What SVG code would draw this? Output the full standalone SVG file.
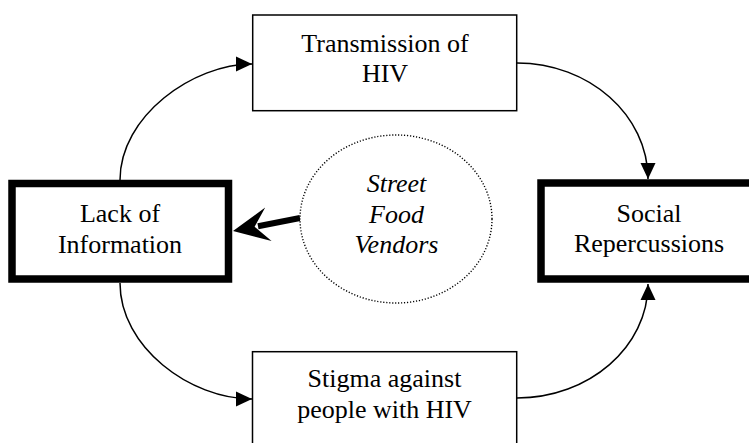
<svg xmlns="http://www.w3.org/2000/svg" width="749" height="443" viewBox="0 0 749 443">
<style>
  text { font-family: "Liberation Serif", "Times New Roman", serif; font-size: 26px; fill: #000; text-anchor: middle; }
  .it { font-style: italic; }
  .thin { fill: #fff; stroke: #000; stroke-width: 1.5; }
  .thick { fill: #fff; stroke: #000; stroke-width: 7.5; }
  .conn { fill: none; stroke: #000; stroke-width: 1.5; }
</style>
<defs>
  <marker id="arr" markerUnits="userSpaceOnUse" markerWidth="16" markerHeight="16" viewBox="0 0 16 16" refX="16" refY="8" orient="auto">
    <path d="M0,0.5 L16,8 L0,15.5 Z" fill="#000"/>
  </marker>
</defs>
<rect width="749" height="443" fill="#fff"/>
<g id="connectors">
  <path class="conn" d="M120,180 C120,116 193,64 252,64" marker-end="url(#arr)"/>
  <path class="conn" d="M517,63 C589,63 648,115 648,179" marker-end="url(#arr)"/>
  <path class="conn" d="M120,283 C120,347 190,399 252,399" marker-end="url(#arr)"/>
  <path class="conn" d="M517,398 C589,398 648,347 648,284" marker-end="url(#arr)"/>
  <line x1="300" y1="218" x2="258" y2="226.2" stroke="#000" stroke-width="6"/>
  <path d="M233,231 L265.2,207.5 L254.6,226.8 L271.6,240.9 Z" fill="#000"/>
</g>
<g id="transmission">
  <rect class="thin" x="252.7" y="15" width="264" height="95.7"/>
  <text x="385" y="51.7">Transmission of</text>
  <text x="385" y="81.7">HIV</text>
</g>
<g id="lack">
  <rect class="thick" x="12" y="183.5" width="216.5" height="95.5"/>
  <text x="120" y="221.7">Lack of</text>
  <text x="120" y="252.7">Information</text>
</g>
<g id="social">
  <rect class="thick" x="541" y="183" width="230" height="96"/>
  <text x="649" y="221.7">Social</text>
  <text x="649" y="251.7">Repercussions</text>
</g>
<g id="stigma">
  <rect class="thin" x="252.5" y="351.7" width="264.2" height="110"/>
  <text x="384.5" y="387">Stigma against</text>
  <text x="384.5" y="417.5">people with HIV</text>
</g>
<g id="vendors">
  <ellipse cx="396" cy="219" rx="96" ry="84" fill="#fff" stroke="#000" stroke-width="1.4" stroke-dasharray="1.2 1.8"/>
  <text class="it" x="396.5" y="191.7">Street</text>
  <text class="it" x="396.5" y="222.7">Food</text>
  <text class="it" x="396.5" y="253.3">Vendors</text>
</g>
</svg>
